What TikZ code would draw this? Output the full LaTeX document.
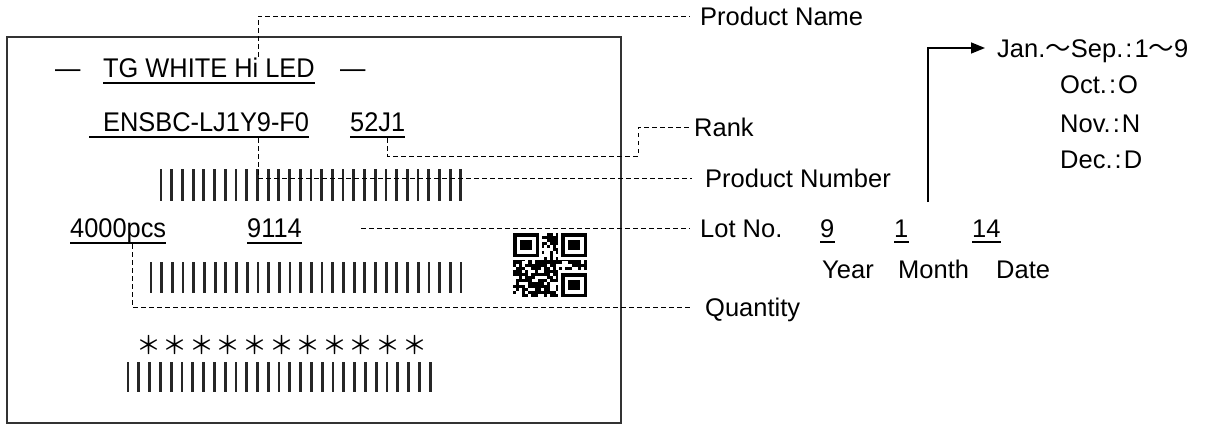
\documentclass[tikz,border=0pt]{standalone}
\usepackage{fontspec}
\setmainfont{Liberation Sans}
\newfontfamily\boxfont[FakeStretch=0.94]{Liberation Sans}
\newfontfamily\cjk{Noto Sans CJK JP}
\usetikzlibrary{arrows.meta}
\newcommand{\mcol}{\hspace{.08em}:\hspace{.08em}}
\newcommand{\astsep}{\hspace{1.6pt}}
\tikzset{
  lbl/.style = {font=\fontsize{25.5}{30}\selectfont, inner sep=0pt, text height=18.3pt, text depth=0pt, anchor=west},
  boxtxt/.style = {font=\boxfont\fontsize{27}{32}\selectfont, inner sep=0pt, text height=19.3pt, text depth=0pt, anchor=west},
  leader/.style = {line width=0.9pt, dash pattern=on 4.5pt off 3.5pt},
  uline/.style = {line width=2pt},
  bar/.style = {line width=2.8pt, black!85},
}
\begin{document}
\begin{tikzpicture}[x=1pt, y=-1pt]
            \useasboundingbox (0,0) rectangle (1206,425);
            \draw[line width=1.6pt, black!80] (7,37) rectangle (621,423);

            \node[boxtxt] (dashl) at (55,68) {—};
            \node[boxtxt] (tg) at (103,68) {TG WHITE Hi LED};
            \node[boxtxt] (dashr) at (340,68) {—};
            \node[boxtxt] (ens) at (89,122) {\hspace*{14pt}ENSBC-LJ1Y9-F0};
            \node[boxtxt] (rk) at (350,122) {52J1};
            \node[boxtxt] (pcs) at (70,228) {4000pcs};
            \node[boxtxt] (lotno) at (247,228) {9114};
            \node[font=\cjk\fontsize{25}{28}\selectfont, inner sep=0pt] (ast) at (281.5,345)
              {＊\astsep＊\astsep＊\astsep＊\astsep＊\astsep＊\astsep＊\astsep＊\astsep＊\astsep＊\astsep＊};

            \foreach \i in {0,...,28} \draw[bar] ({161+\i*10.71},169) -- ++(0,32);
            \foreach \i in {0,...,29} \draw[bar] ({151+\i*10.69},262) -- ++(0,31);
            \foreach \i in {0,...,28} \draw[bar] ({128+\i*10.79},362) -- ++(0,30);

            \pgfmathsetseed{11}
            \foreach \r in {0,...,20}
              \foreach \c in {0,...,23}{
                \pgfmathtruncatemacro\on{rnd<0.6}
                \ifnum\on=1 \fill ({513+3.08*\c},{233+3.05*\r}) rectangle ++(3.1,3.1); \fi
              }
            \foreach \fx/\fy in {513/233, 561/233, 561/273}{
              \fill[white] (\fx-3,\fy-3) rectangle ++(32,30);
              \fill (\fx,\fy) rectangle ++(26,24);
              \fill[white] (\fx+3.5,\fy+3.5) rectangle ++(19,17);
              \fill (\fx+7,\fy+7) rectangle ++(12,10);
            }

            \node[lbl] (pname) at (700,16) {Product Name};
            \node[lbl] (rank) at (694,127) {Rank};
            \node[lbl] (pnum) at (705,178) {Product Number};
            \node[lbl] (lot) at (700,228) {Lot No.};
            \node[lbl] (qty) at (705,307) {Quantity};
            \node[lbl] (yy) at (820,228) {9};
            \node[lbl] (mm) at (894,228) {1};
            \node[lbl] (dd) at (972,228) {14};
            \node[lbl] (year) at (822,269) {Year};
            \node[lbl] (month) at (898,269) {Month};
            \node[lbl] (date) at (996,269) {Date};
            \node[lbl] (jan) at (997,48) {Jan.{\cjk 〜}Sep.\mcol 1{\cjk 〜}9};
            \node[lbl] (oct) at (1060,84) {Oct.\mcol O};
            \node[lbl] (nov) at (1060,123) {Nov.\mcol N};
            \node[lbl] (dec) at (1060,159) {Dec.\mcol D};

            \foreach \n in {tg,ens,rk,pcs,lotno,yy,mm,dd}
              \draw[uline] ([yshift=-5pt]\n.south west) -- ([yshift=-5pt]\n.south east);

            \coordinate (pnA) at (258,57);
            \coordinate (pnB) at (258,138);
            \coordinate (rkA) at (387,138);
            \coordinate (rkB) at (638,156);
            \coordinate (ltA) at (361,228);
            \coordinate (qtA) at (132,244);
            \coordinate (mA) at (928,202);
            \draw[leader, shorten >=10pt] (pnA) |- (pname.west);
            \draw[leader, shorten >=13pt] (pnB) |- (pnum.west);
            \draw[leader, shorten >=2pt] (rkA) |- (rkB) |- (rank.west);
            \draw[leader, shorten >=10pt] (ltA) -- (lot.west);
            \draw[leader, shorten >=15pt] (qtA) |- (qty.west);
            \draw[line width=1.5pt, -{Triangle[length=14pt,width=11pt]}, shorten >=12pt] (mA) |- (jan.west);
\end{tikzpicture}
\end{document}
